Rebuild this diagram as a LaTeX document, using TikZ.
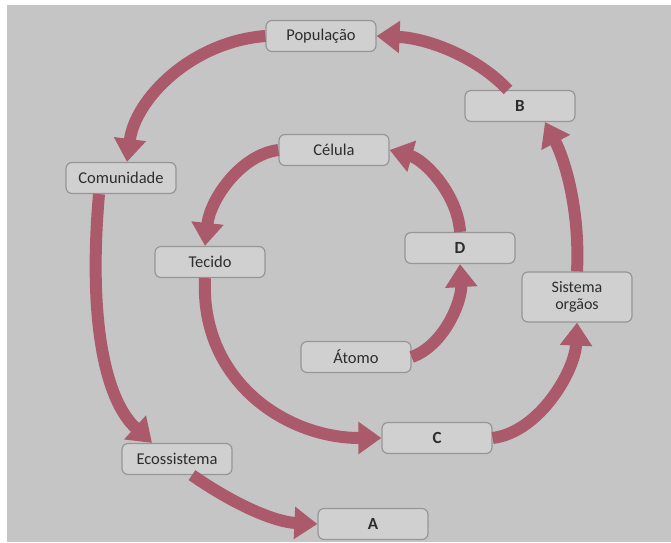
\documentclass[tikz,border=0pt]{standalone}
\usepackage{fontspec}
\setmainfont{Carlito}
\usetikzlibrary{arrows.meta}
\definecolor{bggray}{RGB}{197,197,197}
\definecolor{boxfill}{RGB}{208,208,208}
\definecolor{boxline}{RGB}{150,150,150}
\definecolor{arrowc}{RGB}{170,90,106}
\definecolor{txt}{RGB}{45,45,45}
\tikzset{
  lbox/.style={draw=boxline, line width=1.2pt, fill=boxfill, rounded corners=6pt,
    minimum width=110pt, minimum height=31pt, inner sep=2pt, align=center,
    text=txt, font=\fontsize{16.5}{16.5}\selectfont},
  letter/.style={lbox, font=\fontsize{17}{17}\selectfont\bfseries},
  flow/.style={draw=arrowc, line width=12pt,
    -{Triangle[width=31pt,length=23pt]}, fill=none}
}
\begin{document}
\begin{tikzpicture}[x=1pt,y=-1pt]
\useasboundingbox (0,0) rectangle (671,542);
\fill[white] (0,0) rectangle (671,542);
\fill[bggray] (7,5) rectangle (671,542);
% nodes
\node[lbox] (pop) at (321,36) {População};
\node[letter] (B) at (520,106) {B};
\node[lbox] (com) at (121,178) {Comunidade};
\node[lbox] (cel) at (334,150) {Célula};
\node[lbox] (tec) at (210,262) {Tecido};
\node[letter] (D) at (460,248) {D};
\node[lbox, minimum height=50pt, font=\fontsize{16}{17}\selectfont] (sys) at (577,297) {Sistema\\orgãos};
\node[lbox] (atom) at (356,357) {Átomo};
\node[letter] (C) at (437,438) {C};
\node[lbox] (eco) at (177,459) {Ecossistema};
\node[letter] (A) at (373,524) {A};
% outer cycle
\draw[flow] (pop.west) .. controls (190,42) and (135,100) .. ([xshift=6pt]com.north);
\draw[flow] ([xshift=-22pt]com.south) .. controls (88,320) and (105,400) .. ([xshift=-25pt]eco.north);
\draw[flow] ([xshift=15pt]eco.south) .. controls (235,505) and (275,522) .. (A.west);
\draw[flow] (sys.north) .. controls (580,210) and (565,160) .. ([xshift=25pt]B.south);
\draw[flow] ([xshift=-12pt]B.north) .. controls (475,55) and (425,38) .. (pop.east);
% inner cycle
\draw[flow] (cel.west) .. controls (240,155) and (210,200) .. ([xshift=-5pt]tec.north);
\draw[flow] ([xshift=-5pt]tec.south) .. controls (200,380) and (285,438) .. (C.west);
\draw[flow] (C.east) .. controls (540,432) and (575,370) .. (sys.south);
\draw[flow] (atom.east) .. controls (445,345) and (462,300) .. (D.south);
\draw[flow] (D.north) .. controls (458,195) and (425,160) .. (cel.east);
\end{tikzpicture}
\end{document}
